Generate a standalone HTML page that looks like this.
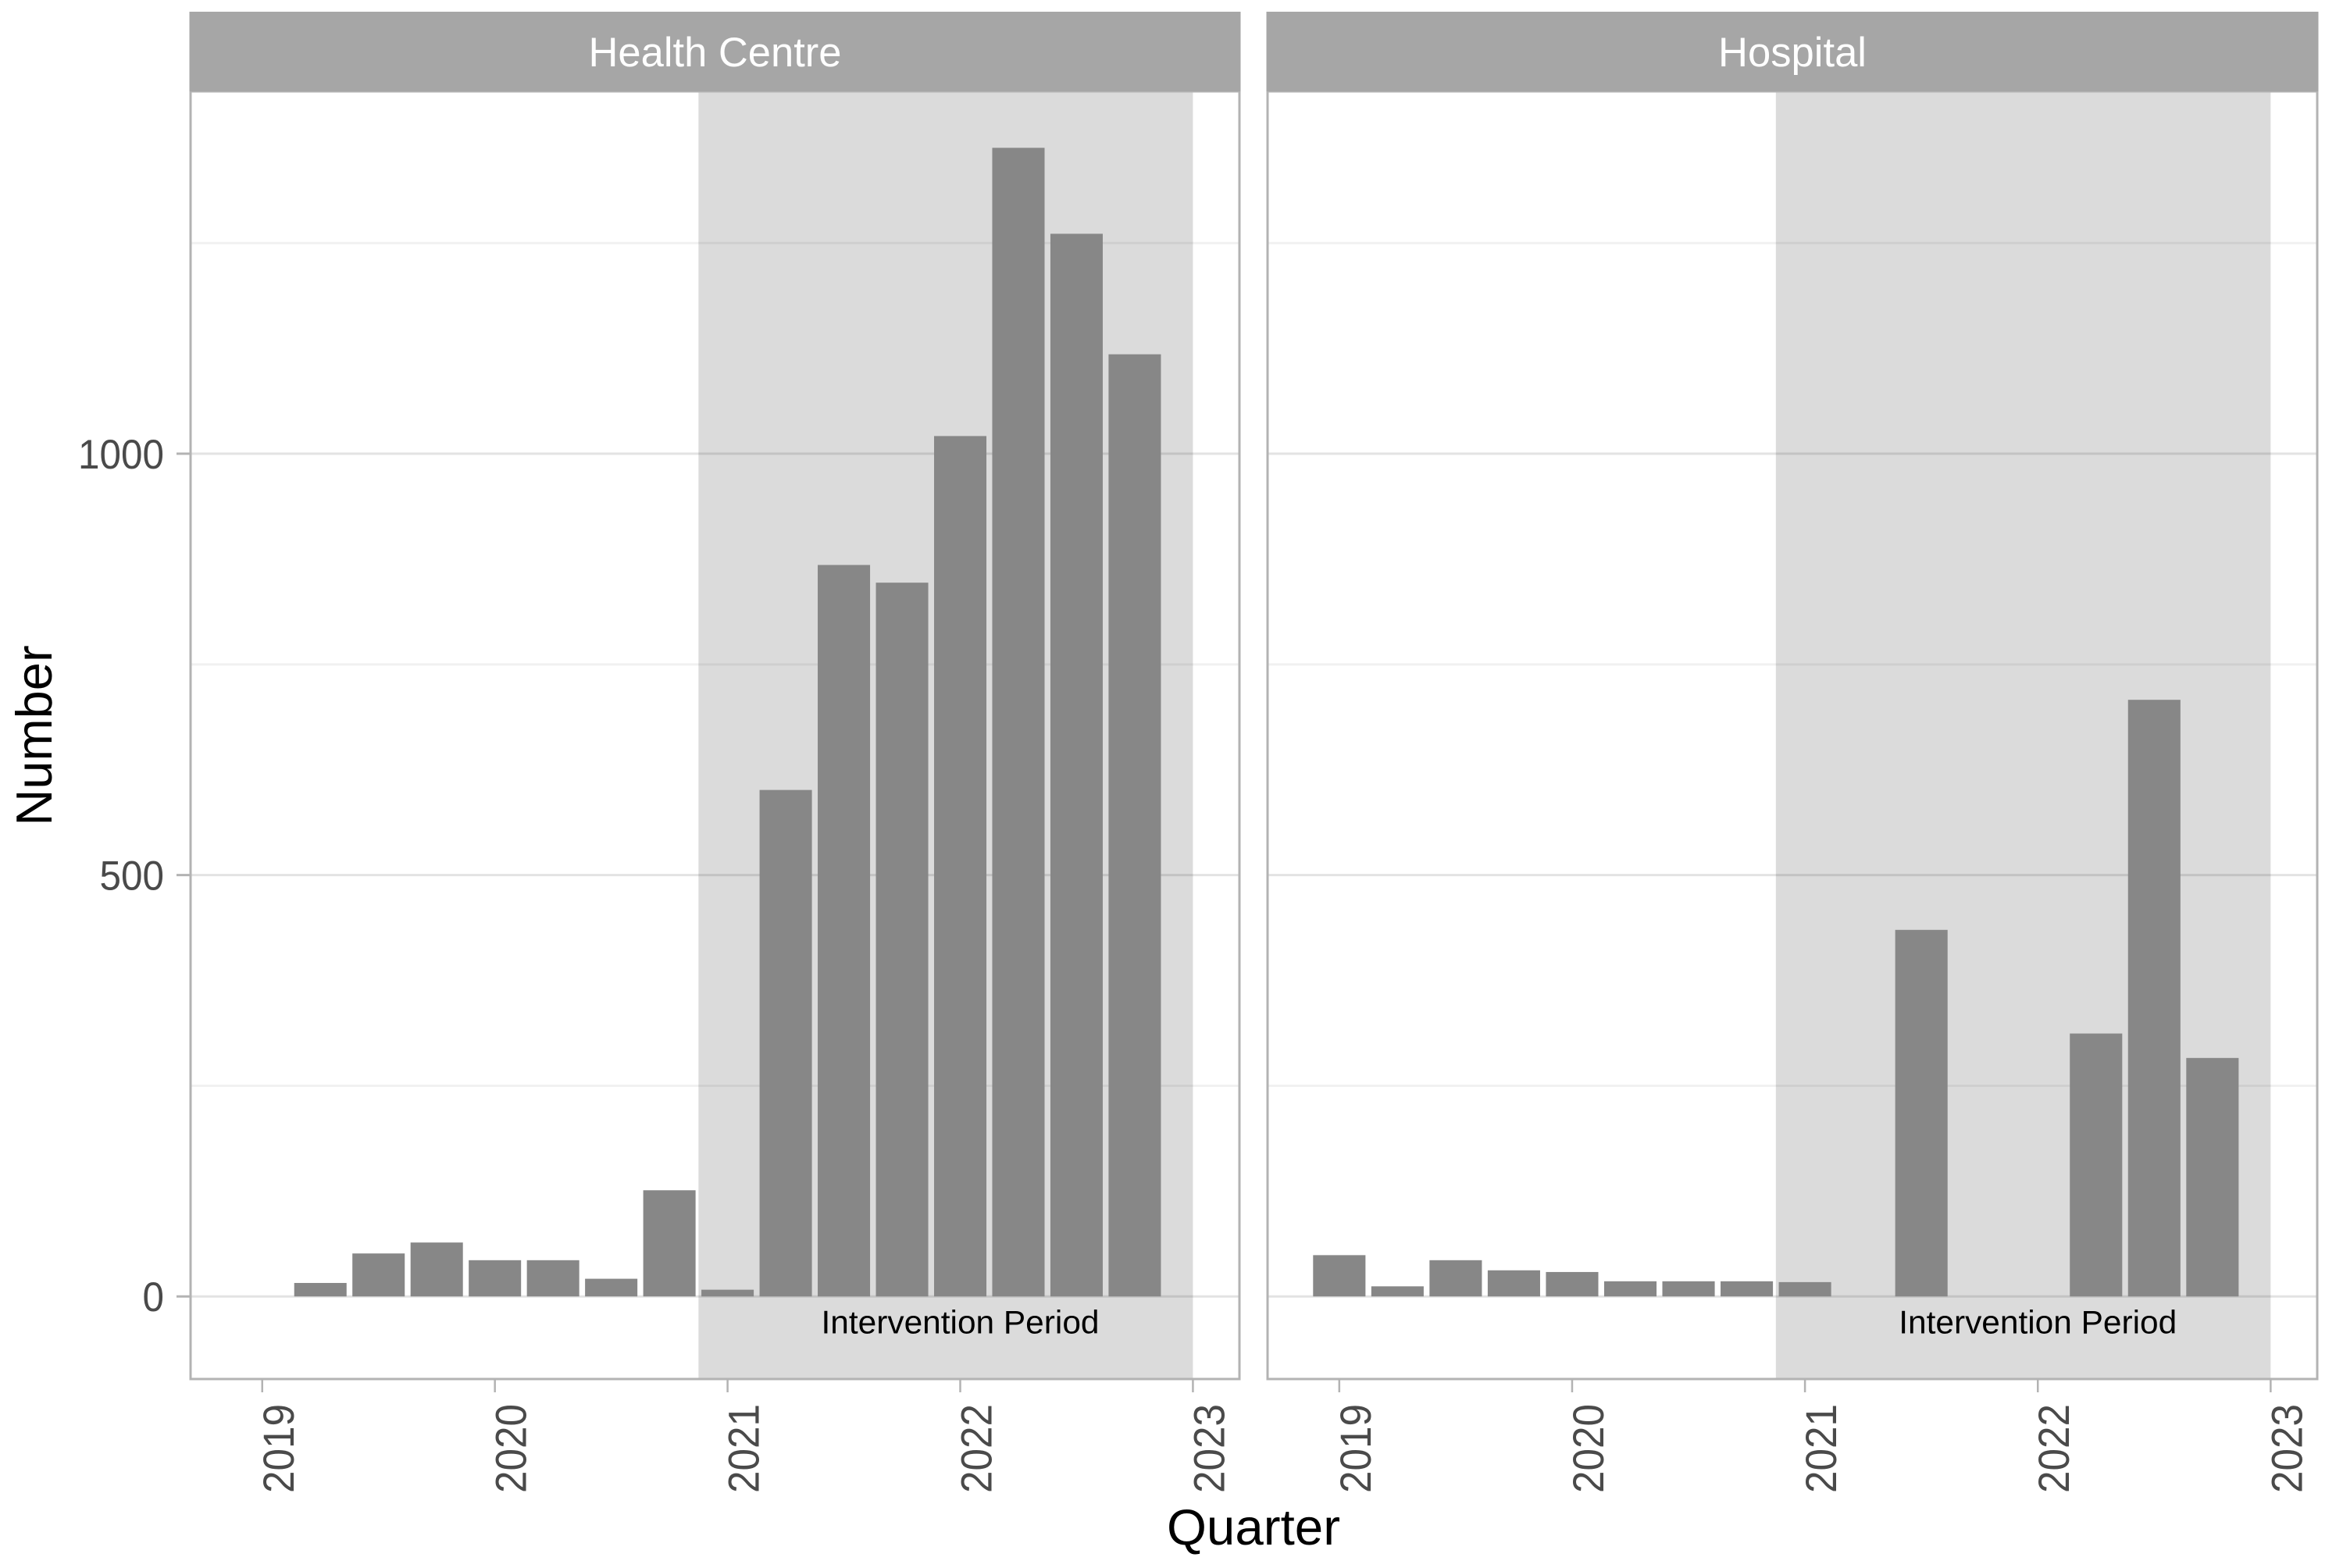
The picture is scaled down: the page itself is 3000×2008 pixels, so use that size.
<!DOCTYPE html>
<html lang="en">
<head>
<meta charset="utf-8">
<title>Number by Quarter: Health Centre and Hospital</title>
<style>
  html, body { margin: 0; padding: 0; background: #ffffff; }
  svg { display: block; }
  text { font-family: "Liberation Sans", Arial, sans-serif; }
</style>
</head>
<body>
<svg id="chart" xmlns="http://www.w3.org/2000/svg" width="3000" height="2008" viewBox="0 0 3000 2008">
  <rect x="0" y="0" width="3000" height="2008" fill="#ffffff"/>
  <g id="panels"></g>
  <text x="66" y="942" transform="rotate(-90 66 942)" text-anchor="middle" font-size="65" fill="#000000">Number</text>
  <text x="1605" y="1978" text-anchor="middle" font-size="65" fill="#000000" textLength="222" lengthAdjust="spacingAndGlyphs">Quarter</text>
</svg>
<script>
// Chart data
const quarters = [2019, 2019.25, 2019.5, 2019.75, 2020, 2020.25, 2020.5, 2020.75, 2021, 2021.25, 2021.5, 2021.75, 2022, 2022.25, 2022.5, 2022.75];
const healthCentreValues = [null, 16, 51, 64, 43, 43, 21, 126, 8, 601, 868, 847, 1021, 1363, 1261, 1118];
const hospitalValues = [49, 12, 43, 31, 29, 18, 18, 18, 17, null, 435, null, null, 312, 708, 283];
const xTickYears = [2019, 2020, 2021, 2022, 2023];
const yMajorTicks = [0, 500, 1000];
const yMinorTicks = [250, 750, 1250];
const interventionPeriod = [2020.875, 2023];
const xDomain = [2018.692, 2023.2];
const yDomain = [-98, 1430];
const barWidthYears = 0.225;

const SVG_NS = 'http://www.w3.org/2000/svg';
const root = document.getElementById('panels');
const plotTop = 117;
const plotBottom = 1766;
const stripTop = 15;

function yScale(v) {
  return plotBottom - (v - yDomain[0]) / (yDomain[1] - yDomain[0]) * (plotBottom - plotTop);
}

function makeXScale(left, right) {
  return function (v) {
    return left + (v - xDomain[0]) / (xDomain[1] - xDomain[0]) * (right - left);
  };
}

function make(tag, attrs, parent) {
  const el = document.createElementNS(SVG_NS, tag);
  Object.keys(attrs).forEach(function (k) { el.setAttribute(k, attrs[k]); });
  parent.appendChild(el);
  return el;
}

function drawPanel(panel) {
  const xScale = makeXScale(panel.left, panel.right);
  const g = make('g', {}, root);
  
  

  const bg = make('rect', { x: panel.left, y: plotTop, width: panel.right - panel.left, height: plotBottom - plotTop, fill: '#ffffff' }, g);
  
  

  yMinorTicks.forEach(function (t) {
    const line = make('line', { x1: panel.left, x2: panel.right, y1: yScale(t), y2: yScale(t), stroke: '#f1f1f1', 'stroke-width': 3 }, g);
    
    
  });

  yMajorTicks.forEach(function (t) {
    const line = make('line', { x1: panel.left, x2: panel.right, y1: yScale(t), y2: yScale(t), stroke: '#e3e3e3', 'stroke-width': 3 }, g);
    
    
  });

  const shadeStart = xScale(interventionPeriod[0]);
  const shadeEnd = xScale(interventionPeriod[1]);
  const shade = make('rect', { x: shadeStart, y: plotTop, width: shadeEnd - shadeStart, height: plotBottom - plotTop, fill: '#000000', 'fill-opacity': 0.14 }, g);
  
  

  panel.values.forEach(function (value, i) {
    if (value === null) { return; }
    const x0 = xScale(quarters[i] - barWidthYears / 2);
    const x1 = xScale(quarters[i] + barWidthYears / 2);
    const bar = make('rect', { x: x0, y: yScale(value), width: x1 - x0, height: yScale(0) - yScale(value), fill: '#878787' }, g);
    
    
  });

  const note = make('text', { x: xScale(2022), y: yScale(-44), 'text-anchor': 'middle', 'font-size': 42, fill: '#000000', textLength: 356, lengthAdjust: 'spacingAndGlyphs' }, g);
  note.textContent = 'Intervention Period';
  
  

  const border = make('rect', { x: panel.left, y: plotTop, width: panel.right - panel.left, height: plotBottom - plotTop, fill: 'none', stroke: '#b3b3b3', 'stroke-width': 3 }, g);
  
  

  const strip = make('rect', { x: panel.left - 1.5, y: stripTop, width: panel.right - panel.left + 3, height: plotTop - stripTop, fill: '#a6a6a6' }, g);
  
  

  const stripLabel = make('text', { x: (panel.left + panel.right) / 2, y: 85, 'text-anchor': 'middle', 'font-size': 53, fill: '#ffffff', textLength: panel.stripWidth, lengthAdjust: 'spacingAndGlyphs' }, g);
  stripLabel.textContent = panel.title;
  
  

  xTickYears.forEach(function (year) {
    const px = xScale(year);
    const tick = make('line', { x1: px, x2: px, y1: plotBottom, y2: 1783, stroke: '#b3b3b3', 'stroke-width': 2.5 }, g);
    
    

    const baseX = px + 40;
    const label = make('text', { x: baseX, y: 1798, transform: 'rotate(-90 ' + baseX + ' 1798)', 'text-anchor': 'end', 'font-size': 56, fill: '#4a4a4a', textLength: 114, lengthAdjust: 'spacingAndGlyphs' }, g);
    label.textContent = String(year);
    
    
  });
}

function drawYAxis(left) {
  const g = make('g', {}, root);
  
  
  yMajorTicks.forEach(function (t) {
    const y = yScale(t);
    const tick = make('line', { x1: 226, x2: left, y1: y, y2: y, stroke: '#b3b3b3', 'stroke-width': 3 }, g);
    
    

    const text = String(t);
    const label = make('text', { x: 210, y: y + 19, 'text-anchor': 'end', 'font-size': 53, fill: '#4a4a4a', textLength: 27.5 * text.length, lengthAdjust: 'spacingAndGlyphs' }, g);
    label.textContent = text;
    
    
  });
}

drawPanel({ key: 'health-centre', title: 'Health Centre', values: healthCentreValues, left: 244, right: 1587, stripWidth: 324 });
drawPanel({ key: 'hospital', title: 'Hospital', values: hospitalValues, left: 1623, right: 2967, stripWidth: 190 });
drawYAxis(244);
</script>
</body>
</html>
